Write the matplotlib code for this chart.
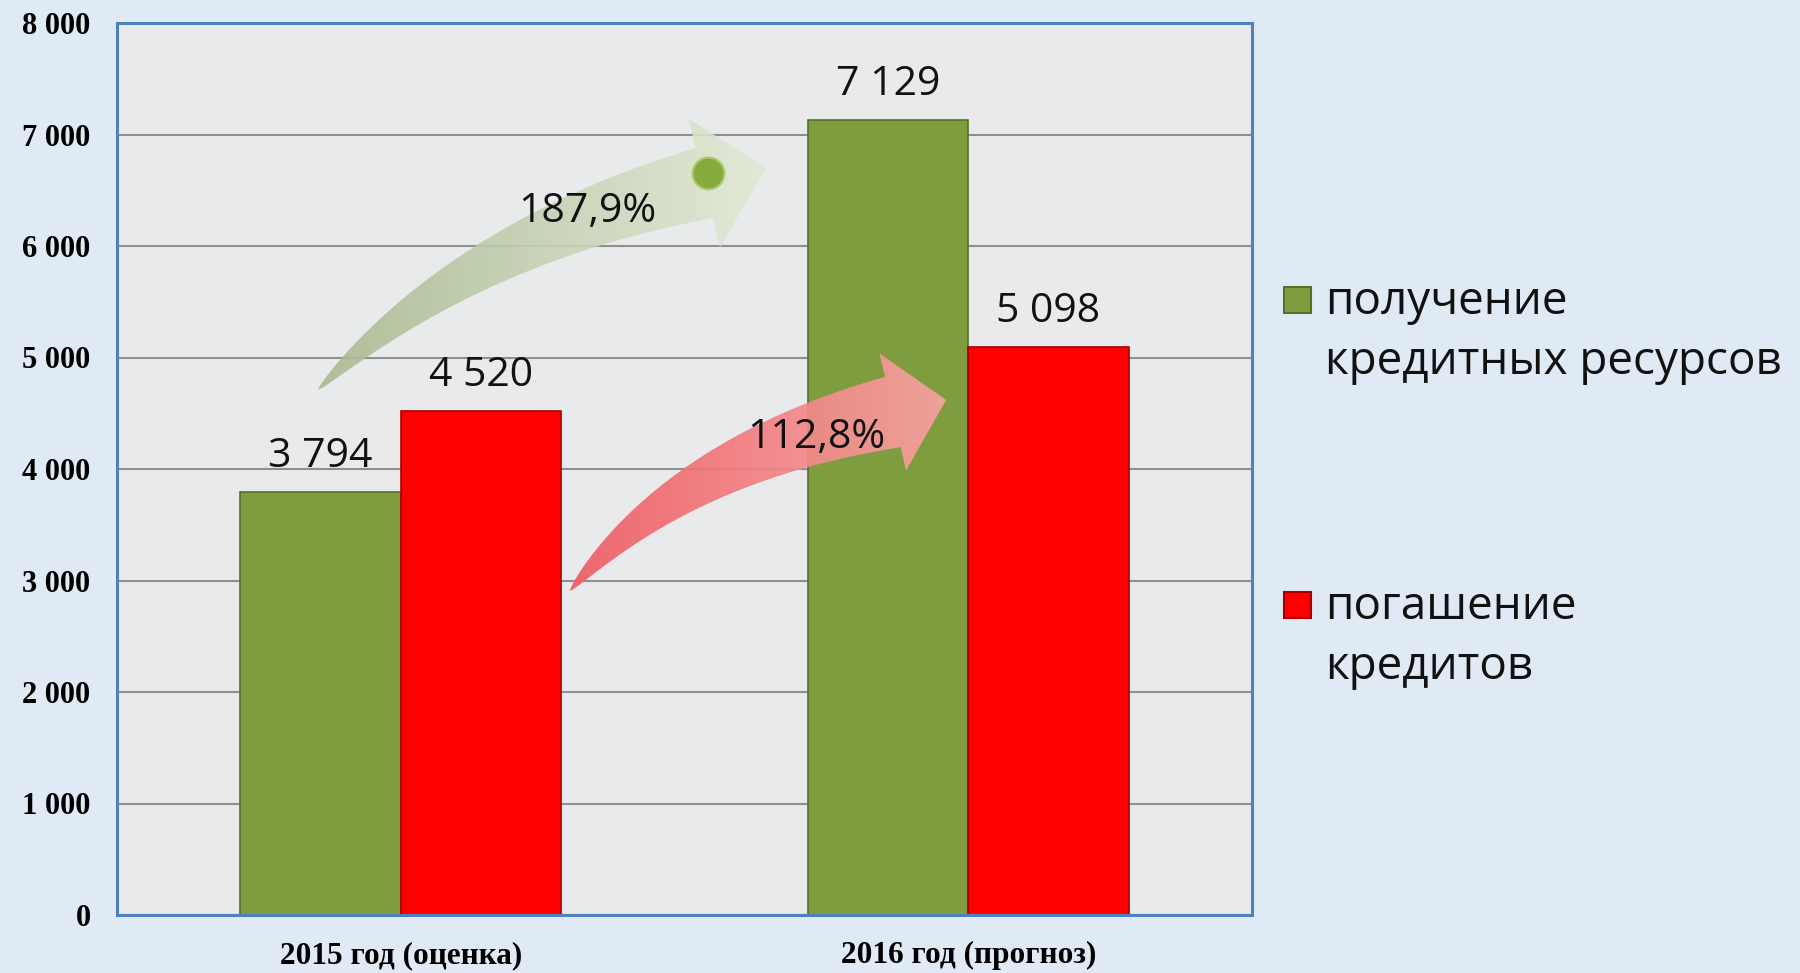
import numpy as np
import matplotlib
matplotlib.use("Agg")
import matplotlib.pyplot as plt
from matplotlib.patches import Polygon, Rectangle
from matplotlib.colors import LinearSegmentedColormap

# data
categories = ["2015 год (оценка)", "2016 год (прогноз)"]
received = [3794, 7129]
repaid = [4520, 5098]
series_names = [["получение", "кредитных ресурсов"], ["погашение", "кредитов"]]
growth_labels = ["187,9%", "112,8%"]
y_ticks = [0, 1000, 2000, 3000, 4000, 5000, 6000, 7000, 8000]

GREEN = "#7f9c3f"
GREEN_EDGE = "#56702a"
RED = "#ff0000"
RED_EDGE = "#a80000"
SANS = ["Open Sans", "DejaVu Sans"]
SERIF = ["Liberation Serif", "DejaVu Serif"]


def fmt(v):
    return f"{v:,}".replace(",", " ")


def curved_arrow(ax, tail, ctrl, base, tip, shaft_hw, head_hw, c0, c1, alpha=0.9):
    """Tapered curved arrow (quadratic bezier body) filled with a gradient"""
    T = ax.transData
    p0, p1, p2, p3 = (T.transform(p) for p in (tail, ctrl, base, tip))
    t = np.linspace(0, 1, 100)[:, None]
    pts = (1 - t) ** 2 * p0 + 2 * (1 - t) * t * p1 + t ** 2 * p2
    d = 2 * (1 - t) * (p1 - p0) + 2 * t * (p2 - p1)
    d = d / np.linalg.norm(d, axis=1, keepdims=True)
    n = np.column_stack([-d[:, 1], d[:, 0]])
    w = shaft_hw * t ** 0.7
    upper = pts + n * w
    lower = pts - n * w
    hd = (p3 - p2) / np.linalg.norm(p3 - p2)
    hn = np.array([-hd[1], hd[0]])
    outline = np.vstack([upper, [p2 + hn * head_hw], [p3], [p2 - hn * head_hw], lower[::-1]])
    outline = T.inverted().transform(outline)
    poly = Polygon(outline, closed=True, facecolor="none", edgecolor="none", zorder=3)
    ax.add_patch(poly)
    cmap = LinearSegmentedColormap.from_list("arr", [c0, c1])
    grad = np.linspace(0, 1, 256)[None, :]
    im = ax.imshow(grad, extent=(outline[:, 0].min(), outline[:, 0].max(),
                                 outline[:, 1].min(), outline[:, 1].max()),
                   cmap=cmap, aspect="auto", origin="lower", alpha=alpha, zorder=3)
    im.set_clip_path(poly)


fig = plt.figure(figsize=(18, 9.73), dpi=100, facecolor="#dfeaf5")
ax = fig.add_axes([117 / 1800, 58 / 973, 1135 / 1800, 892 / 973])
ax.set_facecolor("#e8eaec")

x = np.arange(len(categories))
w = 0.2825
ax.bar(x - w / 2, received, w, color=GREEN, edgecolor=GREEN_EDGE, linewidth=1.2, zorder=2)
ax.bar(x + w / 2, repaid, w, color=RED, edgecolor=RED_EDGE, linewidth=1.2, zorder=2)

for xs, vals in ((x - w / 2, received), (x + w / 2, repaid)):
    for xi, v in zip(xs, vals):
        ax.annotate(fmt(v), (xi, v), xytext=(0, 18), textcoords="offset points",
                    ha="center", va="baseline", fontsize=29.5, family=SANS,
                    color="#111111", zorder=5)

ax.set_xlim(-0.5, 1.5)
ax.set_ylim(0, 8000)

# growth arrows
curved_arrow(ax, (-0.146, 4709), (0.116, 6045), (0.535, 6565), (0.644, 6700),
             36, 66, "#a9ba90", "#e2e9d5", alpha=0.9)
curved_arrow(ax, (0.298, 2906), (0.493, 4090), (0.867, 4511), (0.961, 4619),
             36, 60, "#ee5c62", "#f8a3a3", alpha=0.92)
ax.scatter([0.542], [6655], s=520, color="#86ab3c", edgecolor="#a9c86a",
           linewidth=1.5, zorder=4)
ax.text(0.328, 6215, growth_labels[0], ha="center", va="baseline",
        fontsize=29.5, family=SANS, color="#111111", zorder=5)
ax.text(0.732, 4188, growth_labels[1], ha="center", va="baseline",
        fontsize=29.5, family=SANS, color="#111111", zorder=5)

ax.set_xlim(-0.5, 1.5)
ax.set_ylim(0, 8000)

ax.set_xticks(x)
ax.set_xticklabels(categories, fontsize=22.5, fontweight="bold", family=SERIF)
ax.set_yticks(y_ticks)
ax.set_yticklabels([fmt(v) for v in y_ticks], fontsize=22, fontweight="bold", family=SERIF)
ax.tick_params(axis="both", length=0)
ax.tick_params(axis="x", pad=19)
ax.tick_params(axis="y", pad=19)

ax.yaxis.grid(True, color="#8f8f8f", linewidth=1.5)
ax.set_axisbelow(True)
for s in ax.spines.values():
    s.set_color("#4f81bd")
    s.set_linewidth(2.2)

# legend, drawn by hand so the marker sits on the first line
legend_colors = [(GREEN, GREEN_EDGE), (RED, RED_EDGE)]
legend_base = [314, 619]
for (fc, ec), lines, yb in zip(legend_colors, series_names, legend_base):
    fig.patches.append(Rectangle(((1284) / 1800, 1 - (yb - 1) / 973), 27 / 1800, 26 / 973,
                                 transform=fig.transFigure, facecolor=fc,
                                 edgecolor=ec, linewidth=1.5))
    for i, line in enumerate(lines):
        fig.text(1325 / 1800, 1 - (yb + i * 60) / 973, line, ha="left", va="baseline",
                 fontsize=33, family=SANS, color="#111111")

fig.savefig("out.png", dpi=100, facecolor=fig.get_facecolor())
